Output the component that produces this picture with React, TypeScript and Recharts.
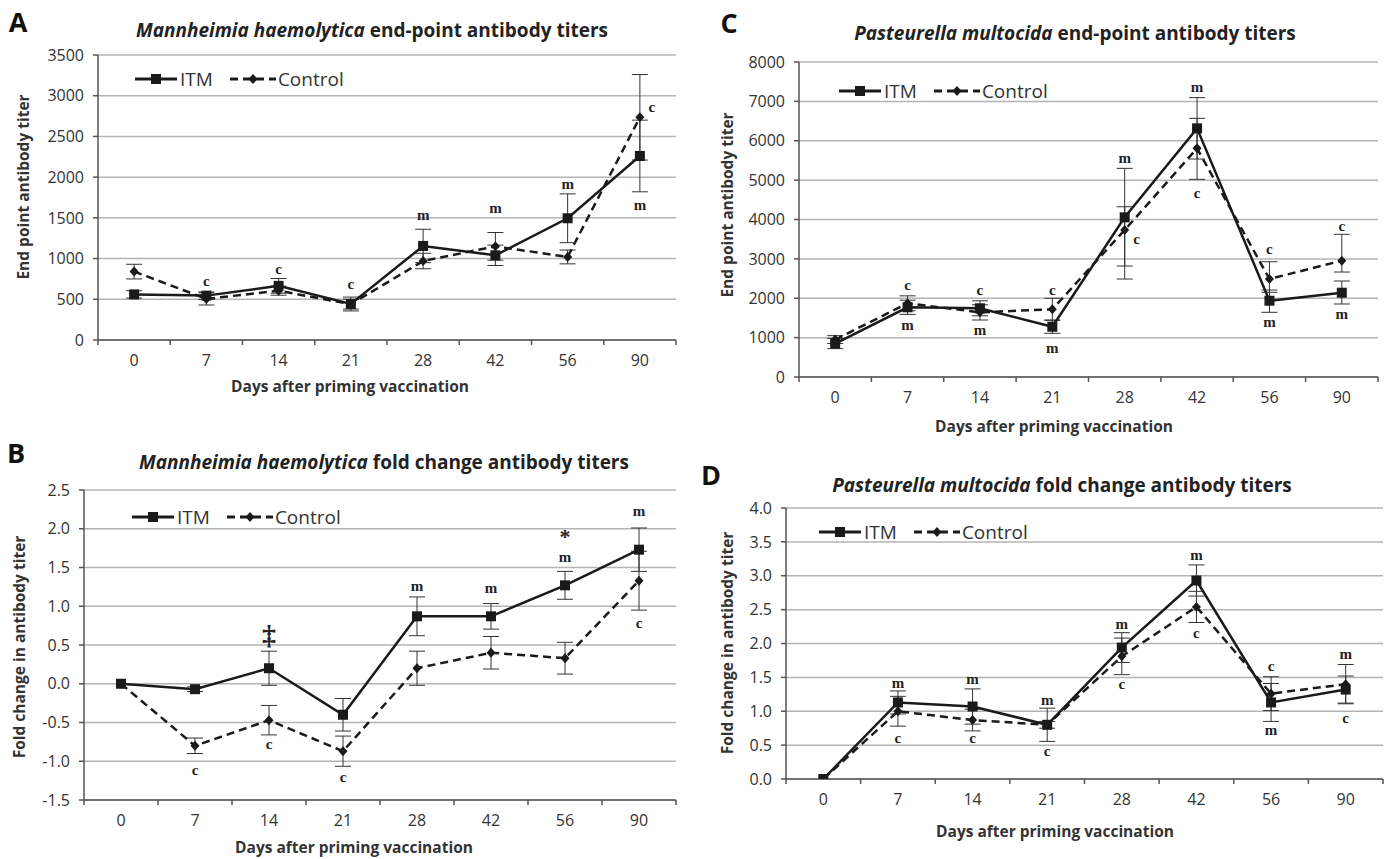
import React from 'react';
import { LineChart, Line, XAxis, YAxis, CartesianGrid, ErrorBar, ReferenceDot } from 'recharts';

// ---------------------------------------------------------------------------
// Data
// ---------------------------------------------------------------------------

const DAYS = ['0', '7', '14', '21', '28', '42', '56', '90'];

// A: Mannheimia haemolytica end-point titers
const MH_END_TICKS = [0, 500, 1000, 1500, 2000, 2500, 3000, 3500];
const MH_END_ITM = [560, 545, 665, 442, 1155, 1040, 1495, 2260];
const MH_END_ITM_ERR = [45, 45, 90, 85, 205, 125, 300, 440];
const MH_END_CTRL = [840, 505, 605, 440, 970, 1150, 1020, 2735];
const MH_END_CTRL_ERR = [90, 75, 55, 60, 95, 170, 85, 525];
const MH_END_NOTES = [
  { day: '7', y: 725, text: 'c' },
  { day: '14', y: 868, text: 'c' },
  { day: '21', y: 684, text: 'c' },
  { day: '28', y: 1535, text: 'm' },
  { day: '42', y: 1618, text: 'm' },
  { day: '56', y: 1912, text: 'm' },
  { day: '90', y: 2857, text: 'c', side: 'right' },
  { day: '90', y: 1658, text: 'm' },
];

// B: Mannheimia haemolytica fold change
const MH_FOLD_TICKS = [-1.5, -1.0, -0.5, 0, 0.5, 1.0, 1.5, 2.0, 2.5];
const MH_FOLD_ITM = [0, -0.07, 0.2, -0.4, 0.87, 0.87, 1.27, 1.73];
const MH_FOLD_ITM_ERR = [0, 0.03, 0.22, 0.21, 0.25, 0.165, 0.18, 0.28];
const MH_FOLD_CTRL = [0, -0.8, -0.47, -0.87, 0.2, 0.4, 0.33, 1.33];
const MH_FOLD_CTRL_ERR = [0, 0.1, 0.19, 0.195, 0.22, 0.21, 0.205, 0.38];
const MH_FOLD_NOTES = [
  { day: '7', y: -1.11, text: 'c' },
  { day: '14', y: 0.63, text: '‡' },
  { day: '14', y: -0.78, text: 'c' },
  { day: '21', y: -1.2, text: 'c' },
  { day: '28', y: 1.265, text: 'm' },
  { day: '42', y: 1.24, text: 'm' },
  { day: '56', y: 1.9, text: '*' },
  { day: '56', y: 1.63, text: 'm' },
  { day: '90', y: 2.23, text: 'm' },
  { day: '90', y: 0.79, text: 'c' },
];

// C: Pasteurella multocida end-point titers
const PM_END_TICKS = [0, 1000, 2000, 3000, 4000, 5000, 6000, 7000, 8000];
const PM_END_ITM = [850, 1770, 1745, 1277, 4055, 6315, 1937, 2141];
const PM_END_ITM_ERR = [[130, 130], [180, 180], [190, 190], [167, 170], [1237, 1244], [780, 780], [294, 272], [287, 297]];
const PM_END_CTRL = [950, 1871, 1643, 1719, 3733, 5807, 2489, 2954];
const PM_END_CTRL_ERR = [[100, 100], [190, 190], [196, 190], [280, 280], [1245, 591], [787, 762], [338, 439], [288, 670]];
const PM_END_NOTES = [
  { day: '7', y: 2336, text: 'c' },
  { day: '7', y: 1320, text: 'm' },
  { day: '14', y: 2209, text: 'c' },
  { day: '14', y: 1193, text: 'm' },
  { day: '21', y: 2209, text: 'c' },
  { day: '21', y: 744, text: 'm' },
  { day: '28', y: 5569, text: 'm' },
  { day: '28', y: 3504, text: 'c', side: 'right' },
  { day: '42', y: 7372, text: 'm' },
  { day: '42', y: 4680, text: 'c' },
  { day: '56', y: 3243, text: 'c' },
  { day: '56', y: 1389, text: 'm' },
  { day: '90', y: 3834, text: 'c' },
  { day: '90', y: 1592, text: 'm' },
];

// D: Pasteurella multocida fold change
const PM_FOLD_TICKS = [0, 0.5, 1.0, 1.5, 2.0, 2.5, 3.0, 3.5, 4.0];
const PM_FOLD_ITM = [0, 1.13, 1.07, 0.8, 1.94, 2.93, 1.13, 1.32];
const PM_FOLD_ITM_ERR = [0, 0.17, 0.26, 0.245, 0.22, 0.23, 0.28, 0.2];
const PM_FOLD_CTRL = [0, 1.0, 0.87, 0.8, 1.81, 2.54, 1.26, 1.4];
const PM_FOLD_CTRL_ERR = [0, 0.22, 0.16, 0.05, 0.27, 0.23, 0.25, 0.29];
const PM_FOLD_NOTES = [
  { day: '7', y: 1.42, text: 'm' },
  { day: '7', y: 0.61, text: 'c' },
  { day: '14', y: 1.47, text: 'm' },
  { day: '14', y: 0.6, text: 'c' },
  { day: '21', y: 1.16, text: 'm' },
  { day: '21', y: 0.41, text: 'c' },
  { day: '28', y: 2.29, text: 'm' },
  { day: '28', y: 1.4, text: 'c' },
  { day: '42', y: 3.3, text: 'm' },
  { day: '42', y: 2.16, text: 'c' },
  { day: '56', y: 1.67, text: 'c' },
  { day: '56', y: 0.73, text: 'm' },
  { day: '90', y: 1.84, text: 'm' },
  { day: '90', y: 0.9, text: 'c' },
];

// ---------------------------------------------------------------------------
// Styles
// ---------------------------------------------------------------------------

const INK = '#1a1a1a';
const AXIS = { stroke: '#555', strokeWidth: 1.5 };
const SANS = '"Open Sans", "Liberation Sans", sans-serif';
const SERIF = '"Liberation Serif", "Times New Roman", serif';

const Y_W = 60;
const M_TOP = 10;
const M_RIGHT = 10;
const X_H = 34;

// symbol glyphs are drawn larger than the letter marks
const NOTE_SIZE: Record<string, number> = { '‡': 28, '*': 22 };

// ---------------------------------------------------------------------------
// Marks
// ---------------------------------------------------------------------------

function SquareDot(p: any) {
  if (p.cx == null || p.cy == null) return null;
  return <rect key={`sq-${p.index}`} x={p.cx - 5} y={p.cy - 5} width={10} height={10} fill={INK} />;
}

function DiamondDot(p: any) {
  if (p.cx == null || p.cy == null) return null;
  const { cx, cy } = p;
  return (
    <path
      key={`dm-${p.index}`}
      d={`M${cx},${cy - 5} L${cx + 4.5},${cy} L${cx},${cy + 5} L${cx - 4.5},${cy} Z`}
      fill={INK}
    />
  );
}

function XTick(p: any) {
  const { x, y, payload, index, band } = p;
  return (
    <g>
      <line x1={x - band / 2} x2={x - band / 2} y1={y} y2={y + 5} stroke="#555" strokeWidth={1.5} />
      {index === DAYS.length - 1 && (
        <line x1={x + band / 2} x2={x + band / 2} y1={y} y2={y + 5} stroke="#555" strokeWidth={1.5} />
      )}
      <text x={x} y={y + 20} textAnchor="middle" dominantBaseline="central" fill="#333" fontSize={16} fontFamily={SANS}>
        {payload.value}
      </text>
    </g>
  );
}

function NoteText({ cx, cy, note }: any) {
  return (
    <text
      x={cx + (note.side === 'right' ? 12 : 0)}
      y={cy}
      textAnchor="middle"
      dominantBaseline="central"
      fontFamily={SERIF}
      fontWeight={700}
      fontSize={NOTE_SIZE[note.text] ?? 15}
      fill="#222"
    >
      {note.text}
    </text>
  );
}

// ---------------------------------------------------------------------------
// Panel
// ---------------------------------------------------------------------------

type Box = { left: number; right: number; top: number; bottom: number };

function Panel({
  box,
  ticks,
  itm,
  itmErr,
  ctrl,
  ctrlErr,
  notes,
  fmt,
}: {
  box: Box;
  ticks: number[];
  itm: number[];
  itmErr: any[];
  ctrl: number[];
  ctrlErr: any[];
  notes: any[];
  fmt?: (v: number) => string;
}) {
  const plotW = box.right - box.left;
  const plotH = box.bottom - box.top;
  const band = plotW / DAYS.length;
  const data = DAYS.map((d, i) => ({
    day: d,
    itm: itm[i],
    itmErr: itmErr[i],
    ctrl: ctrl[i],
    ctrlErr: ctrlErr[i],
  }));

  return (
    <div style={{ position: 'absolute', left: box.left - Y_W, top: box.top - M_TOP }}>
      <LineChart
        width={Y_W + plotW + M_RIGHT}
        height={M_TOP + plotH + X_H}
        data={data}
        margin={{ top: M_TOP, right: M_RIGHT, bottom: 0, left: 0 }}
      >
        <CartesianGrid vertical={false} stroke="#b4b4b4" strokeWidth={1.5} />
        <XAxis
          dataKey="day"
          interval={0}
          padding={{ left: band / 2, right: band / 2 }}
          height={X_H}
          tickSize={0}
          tickMargin={0}
          tickLine={false}
          axisLine={AXIS}
          tick={(p: any) => <XTick {...p} band={band} />}
        />
        <XAxis
          xAxisId="top"
          orientation="top"
          dataKey="day"
          height={0}
          tick={false}
          tickLine={false}
          axisLine={AXIS}
        />
        <YAxis
          type="number"
          domain={[ticks[0], ticks[ticks.length - 1]]}
          ticks={ticks}
          interval={0}
          allowDataOverflow
          width={Y_W}
          tickSize={5}
          tickMargin={9}
          tickLine={{ stroke: '#555', strokeWidth: 1.5 }}
          axisLine={AXIS}
          tick={{ fill: '#333', fontSize: 16, fontFamily: SANS }}
          tickFormatter={fmt}
        />
        <YAxis
          yAxisId="right"
          orientation="right"
          type="number"
          domain={[0, 1]}
          width={0}
          tick={false}
          tickLine={false}
          axisLine={AXIS}
        />
        <Line
          dataKey="ctrl"
          stroke={INK}
          strokeWidth={2.5}
          strokeDasharray="8 5"
          dot={DiamondDot}
          activeDot={false}
          isAnimationActive={false}
        >
          <ErrorBar dataKey="ctrlErr" width={8} stroke="#333" strokeWidth={1} direction="y" />
        </Line>
        <Line
          dataKey="itm"
          stroke={INK}
          strokeWidth={2.5}
          dot={SquareDot}
          activeDot={false}
          isAnimationActive={false}
        >
          <ErrorBar dataKey="itmErr" width={8} stroke="#333" strokeWidth={1} direction="y" />
        </Line>
        {notes.map((n, i) => (
          <ReferenceDot
            key={`note-${i}`}
            x={n.day}
            y={n.y}
            r={0}
            ifOverflow="visible"
            shape={(p: any) => <NoteText {...p} note={n} />}
          />
        ))}
      </LineChart>
    </div>
  );
}

// ---------------------------------------------------------------------------
// Text bits
// ---------------------------------------------------------------------------

const textBase: React.CSSProperties = {
  position: 'absolute',
  whiteSpace: 'nowrap',
  lineHeight: 1,
  fontFamily: SANS,
};

function Title({ x, y, species, rest }: { x: number; y: number; species: string; rest: string }) {
  return (
    <div
      style={{
        ...textBase,
        left: x,
        top: y,
        transform: 'translate(-50%, -50%)',
        fontWeight: 700,
        fontSize: 19,
        color: '#222',
      }}
    >
      <i>{species}</i> {rest}
    </div>
  );
}

function AxisTitle({ x, y, text, vertical }: { x: number; y: number; text: string; vertical?: boolean }) {
  return (
    <div
      style={{
        ...textBase,
        left: x,
        top: y,
        transform: `translate(-50%, -50%)${vertical ? ' rotate(-90deg)' : ''}`,
        fontWeight: 700,
        fontSize: 15.5,
        color: '#333',
      }}
    >
      {text}
    </div>
  );
}

function PanelLetter({ x, y, text }: { x: number; y: number; text: string }) {
  return (
    <div
      style={{
        ...textBase,
        left: x,
        top: y,
        transform: 'translate(-50%, -50%)',
        fontWeight: 700,
        fontSize: 27,
        color: '#111',
      }}
    >
      {text}
    </div>
  );
}

function LegendBox({ x, y }: { x: number; y: number }) {
  return (
    <div
      style={{
        ...textBase,
        left: x,
        top: y - 13,
        height: 26,
        display: 'flex',
        alignItems: 'center',
        fontSize: 19,
        color: '#333',
      }}
    >
      <svg width={42} height={26}>
        <line x1={0} x2={42} y1={13} y2={13} stroke={INK} strokeWidth={3} />
        <rect x={16} y={8} width={10} height={10} fill={INK} />
      </svg>
      <span style={{ marginLeft: 3 }}>ITM</span>
      <svg width={46} height={26} style={{ marginLeft: 17 }}>
        <line x1={0} x2={46} y1={13} y2={13} stroke={INK} strokeWidth={3} strokeDasharray="8 5" />
        <path d="M23,8 L27.5,13 L23,18 L18.5,13 Z" fill={INK} />
      </svg>
      <span style={{ marginLeft: 2 }}>Control</span>
    </div>
  );
}

const fmt1 = (v: number) => v.toFixed(1);

// ---------------------------------------------------------------------------
// App
// ---------------------------------------------------------------------------

export default function App() {
  return (
    <div style={{ position: 'absolute', left: 0, top: 0, width: 1386, height: 859, background: '#fff' }}>
      {/* A */}
      <PanelLetter x={18} y={21} text="A" />
      <Title x={372} y={30} species="Mannheimia haemolytica" rest="end-point antibody titers" />
      <Panel
        box={{ left: 98, right: 676, top: 55, bottom: 340 }}
        ticks={MH_END_TICKS}
        itm={MH_END_ITM}
        itmErr={MH_END_ITM_ERR}
        ctrl={MH_END_CTRL}
        ctrlErr={MH_END_CTRL_ERR}
        notes={MH_END_NOTES}
      />
      <LegendBox x={135} y={79} />
      <AxisTitle x={24} y={187} text="End point antibody titer" vertical />
      <AxisTitle x={350} y={387} text="Days after priming vaccination" />

      {/* C */}
      <PanelLetter x={729} y={22} text="C" />
      <Title x={1075} y={33} species="Pasteurella multocida" rest="end-point antibody titers" />
      <Panel
        box={{ left: 799, right: 1378, top: 62, bottom: 377 }}
        ticks={PM_END_TICKS}
        itm={PM_END_ITM}
        itmErr={PM_END_ITM_ERR}
        ctrl={PM_END_CTRL}
        ctrlErr={PM_END_CTRL_ERR}
        notes={PM_END_NOTES}
      />
      <LegendBox x={839} y={91} />
      <AxisTitle x={728} y={205} text="End point antibody titer" vertical />
      <AxisTitle x={1054} y={427} text="Days after priming vaccination" />

      {/* B */}
      <PanelLetter x={16} y={452} text="B" />
      <Title x={384} y={462} species="Mannheimia haemolytica" rest="fold change antibody titers" />
      <Panel
        box={{ left: 84, right: 676, top: 490, bottom: 800 }}
        ticks={MH_FOLD_TICKS}
        itm={MH_FOLD_ITM}
        itmErr={MH_FOLD_ITM_ERR}
        ctrl={MH_FOLD_CTRL}
        ctrlErr={MH_FOLD_CTRL_ERR}
        notes={MH_FOLD_NOTES}
        fmt={fmt1}
      />
      <LegendBox x={132} y={517} />
      <AxisTitle x={20} y={647} text="Fold change in antibody titer" vertical />
      <AxisTitle x={354} y={848} text="Days after priming vaccination" />

      {/* D */}
      <PanelLetter x={711} y={474} text="D" />
      <Title x={1062} y={485} species="Pasteurella multocida" rest="fold change antibody titers" />
      <Panel
        box={{ left: 786, right: 1383, top: 508, bottom: 779 }}
        ticks={PM_FOLD_TICKS}
        itm={PM_FOLD_ITM}
        itmErr={PM_FOLD_ITM_ERR}
        ctrl={PM_FOLD_CTRL}
        ctrlErr={PM_FOLD_CTRL_ERR}
        notes={PM_FOLD_NOTES}
        fmt={fmt1}
      />
      <LegendBox x={819} y={532} />
      <AxisTitle x={728} y={643} text="Fold change in antibody titer" vertical />
      <AxisTitle x={1055} y={832} text="Days after priming vaccination" />
    </div>
  );
}
